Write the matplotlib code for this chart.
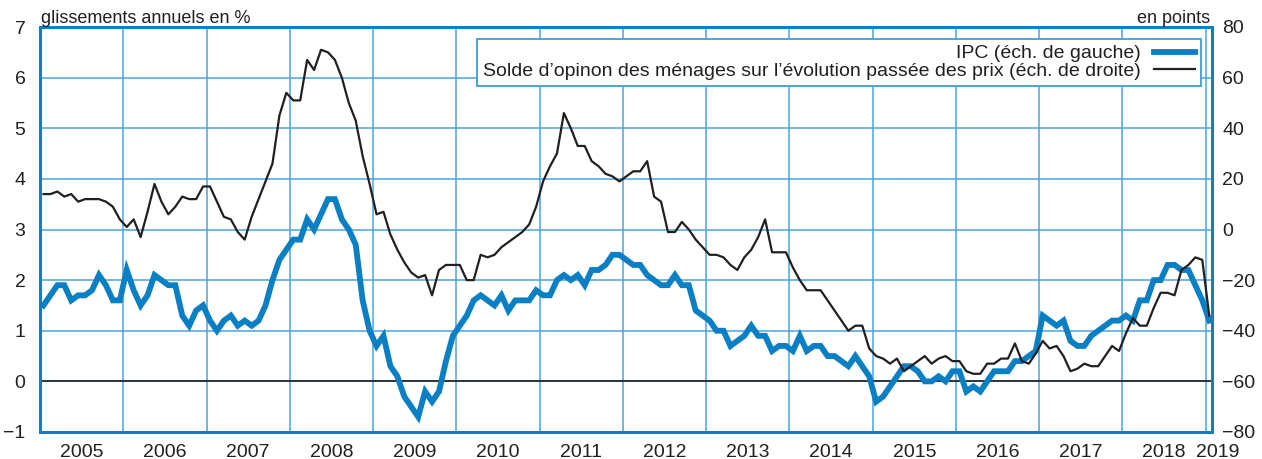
import numpy as np
import matplotlib
matplotlib.use("Agg")
import matplotlib.pyplot as plt

plt.rcParams['font.family'] = ['Liberation Sans', 'DejaVu Sans']
plt.rcParams['font.size'] = 14

# monthly values, Jan 2005 -> Jan 2019
ipc = [
    1.5, 1.7, 1.9, 1.9, 1.6, 1.7, 1.7, 1.8, 2.1, 1.9, 1.6, 1.6,   # 2005
    2.2, 1.8, 1.5, 1.7, 2.1, 2.0, 1.9, 1.9, 1.3, 1.1, 1.4, 1.5,   # 2006
    1.2, 1.0, 1.2, 1.3, 1.1, 1.2, 1.1, 1.2, 1.5, 2.0, 2.4, 2.6,   # 2007
    2.8, 2.8, 3.2, 3.0, 3.3, 3.6, 3.6, 3.2, 3.0, 2.7, 1.6, 1.0,   # 2008
    0.7, 0.9, 0.3, 0.1, -0.3, -0.5, -0.7, -0.2, -0.4, -0.2, 0.4, 0.9,  # 2009
    1.1, 1.3, 1.6, 1.7, 1.6, 1.5, 1.7, 1.4, 1.6, 1.6, 1.6, 1.8,   # 2010
    1.7, 1.7, 2.0, 2.1, 2.0, 2.1, 1.9, 2.2, 2.2, 2.3, 2.5, 2.5,   # 2011
    2.4, 2.3, 2.3, 2.1, 2.0, 1.9, 1.9, 2.1, 1.9, 1.9, 1.4, 1.3,   # 2012
    1.2, 1.0, 1.0, 0.7, 0.8, 0.9, 1.1, 0.9, 0.9, 0.6, 0.7, 0.7,   # 2013
    0.6, 0.9, 0.6, 0.7, 0.7, 0.5, 0.5, 0.4, 0.3, 0.5, 0.3, 0.1,   # 2014
    -0.4, -0.3, -0.1, 0.1, 0.3, 0.3, 0.2, 0.0, 0.0, 0.1, 0.0, 0.2,  # 2015
    0.2, -0.2, -0.1, -0.2, 0.0, 0.2, 0.2, 0.2, 0.4, 0.4, 0.5, 0.6,  # 2016
    1.3, 1.2, 1.1, 1.2, 0.8, 0.7, 0.7, 0.9, 1.0, 1.1, 1.2, 1.2,   # 2017
    1.3, 1.2, 1.6, 1.6, 2.0, 2.0, 2.3, 2.3, 2.2, 2.2, 1.9, 1.6,   # 2018
    1.2,                                                          # 2019
]

solde = [
    14, 14, 15, 13, 14, 11, 12, 12, 12, 11, 9, 4,          # 2005
    1, 4, -3, 7, 18, 11, 6, 9, 13, 12, 12, 17,             # 2006
    17, 11, 5, 4, -1, -4, 5, 12, 19, 26, 45, 54,           # 2007
    51, 51, 67, 63, 71, 70, 67, 60, 50, 43, 29, 18,        # 2008
    6, 7, -2, -8, -13, -17, -19, -18, -26, -16, -14, -14,  # 2009
    -14, -20, -20, -10, -11, -10, -7, -5, -3, -1, 2, 9,    # 2010
    19, 25, 30, 46, 40, 33, 33, 27, 25, 22, 21, 19,        # 2011
    21, 23, 23, 27, 13, 11, -1, -1, 3, 0, -4, -7,          # 2012
    -10, -10, -11, -14, -16, -11, -8, -3, 4, -9, -9, -9,   # 2013
    -15, -20, -24, -24, -24, -28, -32, -36, -40, -38, -38, -47,  # 2014
    -50, -51, -53, -51, -56, -54, -52, -50, -53, -51, -50, -52,  # 2015
    -52, -56, -57, -57, -53, -53, -51, -51, -45, -52, -53, -49,  # 2016
    -44, -47, -46, -50, -56, -55, -53, -54, -54, -50, -46, -48,  # 2017
    -41, -35, -38, -38, -31, -25, -25, -26, -16, -14, -11, -12,  # 2018
    -34,                                                         # 2019
]

years = list(range(2005, 2020))
left_ticks = list(range(-1, 8))
right_ticks = list(range(-80, 81, 20))

lab_ipc = "IPC (éch. de gauche)"
lab_solde = "Solde d’opinon des ménages sur l’évolution passée des prix (éch. de droite)"

BLUE = '#0a7fc4'
GRID = '#4ba3dc'
INK = '#231f20'

x = 2005 + (np.arange(len(ipc)) + 0.5) / 12

W, H = 1262, 459
fig = plt.figure(figsize=(W / 100, H / 100), dpi=100)
ax = fig.add_axes([40 / W, 1 - 432 / H, 1172 / W, 405 / H])

ax.set_xlim(2005, 2019.075)
ax.set_ylim(-1, 7)
ax.set_xticks(years[1:])
ax.set_yticks(left_ticks)
ax.tick_params(axis='x', length=0, labelbottom=False)
ax.tick_params(axis='y', length=0, pad=10.5, colors=INK)
ax.grid(True, color=GRID, lw=1.1)
ax.set_axisbelow(True)
for s in ax.spines.values():
    s.set_color(BLUE)
    s.set_linewidth(2)

ax.axhline(0, color=INK, lw=1.2, zorder=2)
l1, = ax.plot(x, ipc, color=BLUE, lw=4.2, solid_joinstyle='miter', zorder=3)

ax2 = ax.twinx()
ax2.set_ylim(-80, 80)
ax2.set_yticks(right_ticks)
ax2.tick_params(axis='y', length=0, pad=7.5, colors=INK)
for s in ax2.spines.values():
    s.set_color(BLUE)
    s.set_linewidth(2)
l2, = ax2.plot(x, solde, color=INK, lw=1.6, zorder=3)

# year labels sit in the middle of each year, 2019 just after the last gridline
label_x = [y + 0.5 for y in years[:-1]] + [2019.14]
for yr, xp in zip(years, label_x):
    ax.text(xp, -0.03, str(yr), transform=ax.get_xaxis_transform(),
            ha='center', va='top', color=INK, clip_on=False)

fig.text(41 / W, 1 - 23 / H, "glissements annuels en %", ha='left',
         va='baseline', color=INK, fontsize=13)
fig.text(1210 / W, 1 - 23 / H, "en points", ha='right', va='baseline',
         color=INK, fontsize=13)

leg = ax2.legend([l1, l2], [lab_ipc, lab_solde], loc='upper right',
                 bbox_to_anchor=(1201 / W, 1 - 39 / H),
                 bbox_transform=fig.transFigure, borderaxespad=0,
                 markerfirst=False, fancybox=False, framealpha=1,
                 edgecolor=GRID, handlelength=2.1, handletextpad=0.7,
                 labelspacing=0.0, borderpad=0.3, labelcolor=INK)
leg.get_frame().set_linewidth(1.4)

fig.savefig("out.png", dpi=100)
